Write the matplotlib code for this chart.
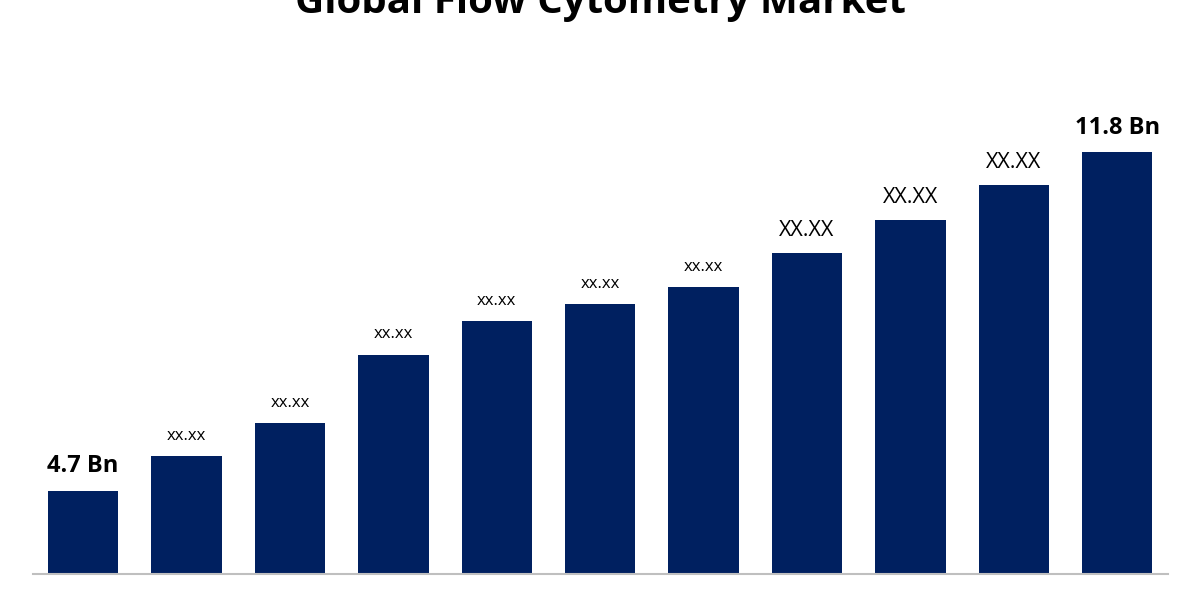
import numpy as np
import matplotlib.pyplot as plt

years = list(range(2022, 2033))
values = [4.7, 5.43, 6.12, 7.55, 8.26, 8.61, 8.97, 9.68, 10.37, 11.11, 11.8]
labels = ["4.7 Bn", "xx.xx", "xx.xx", "xx.xx", "xx.xx", "xx.xx", "xx.xx",
          "XX.XX", "XX.XX", "XX.XX", "11.8 Bn"]

plt.rcParams['font.family'] = ['Open Sans', 'DejaVu Sans']

fig = plt.figure(figsize=(12, 6), dpi=100)
ax = fig.add_axes([33 / 1200, 26 / 600, 1135 / 1200, 503 / 600])

x = np.arange(len(values))
ax.bar(x, values, width=0.68, color="#002060", zorder=2)

for i, (v, lab) in enumerate(zip(values, labels)):
    if "Bn" in lab:
        kw = dict(fontsize=17, fontweight="bold")
    elif lab.isupper():
        kw = dict(fontsize=15.5)
    else:
        kw = dict(fontsize=12)
    ax.annotate(lab, (i, v), xytext=(0, 9), textcoords="offset points",
                ha="center", va="bottom", color="black", **kw)

ax.set_xlim(-0.484, 10.49)
ax.set_ylim(2.96, 13.5)
for s in ["top", "right", "left"]:
    ax.spines[s].set_visible(False)
ax.spines["bottom"].set_color("#bfbfbf")
ax.spines["bottom"].set_linewidth(1.5)
ax.set_xticks([])
ax.set_yticks([])

fig.text(0.5, 0.995, "Global Flow Cytometry Market", ha="center", va="center",
         fontsize=29, fontweight="bold")

fig.savefig("out.png", dpi=100)
